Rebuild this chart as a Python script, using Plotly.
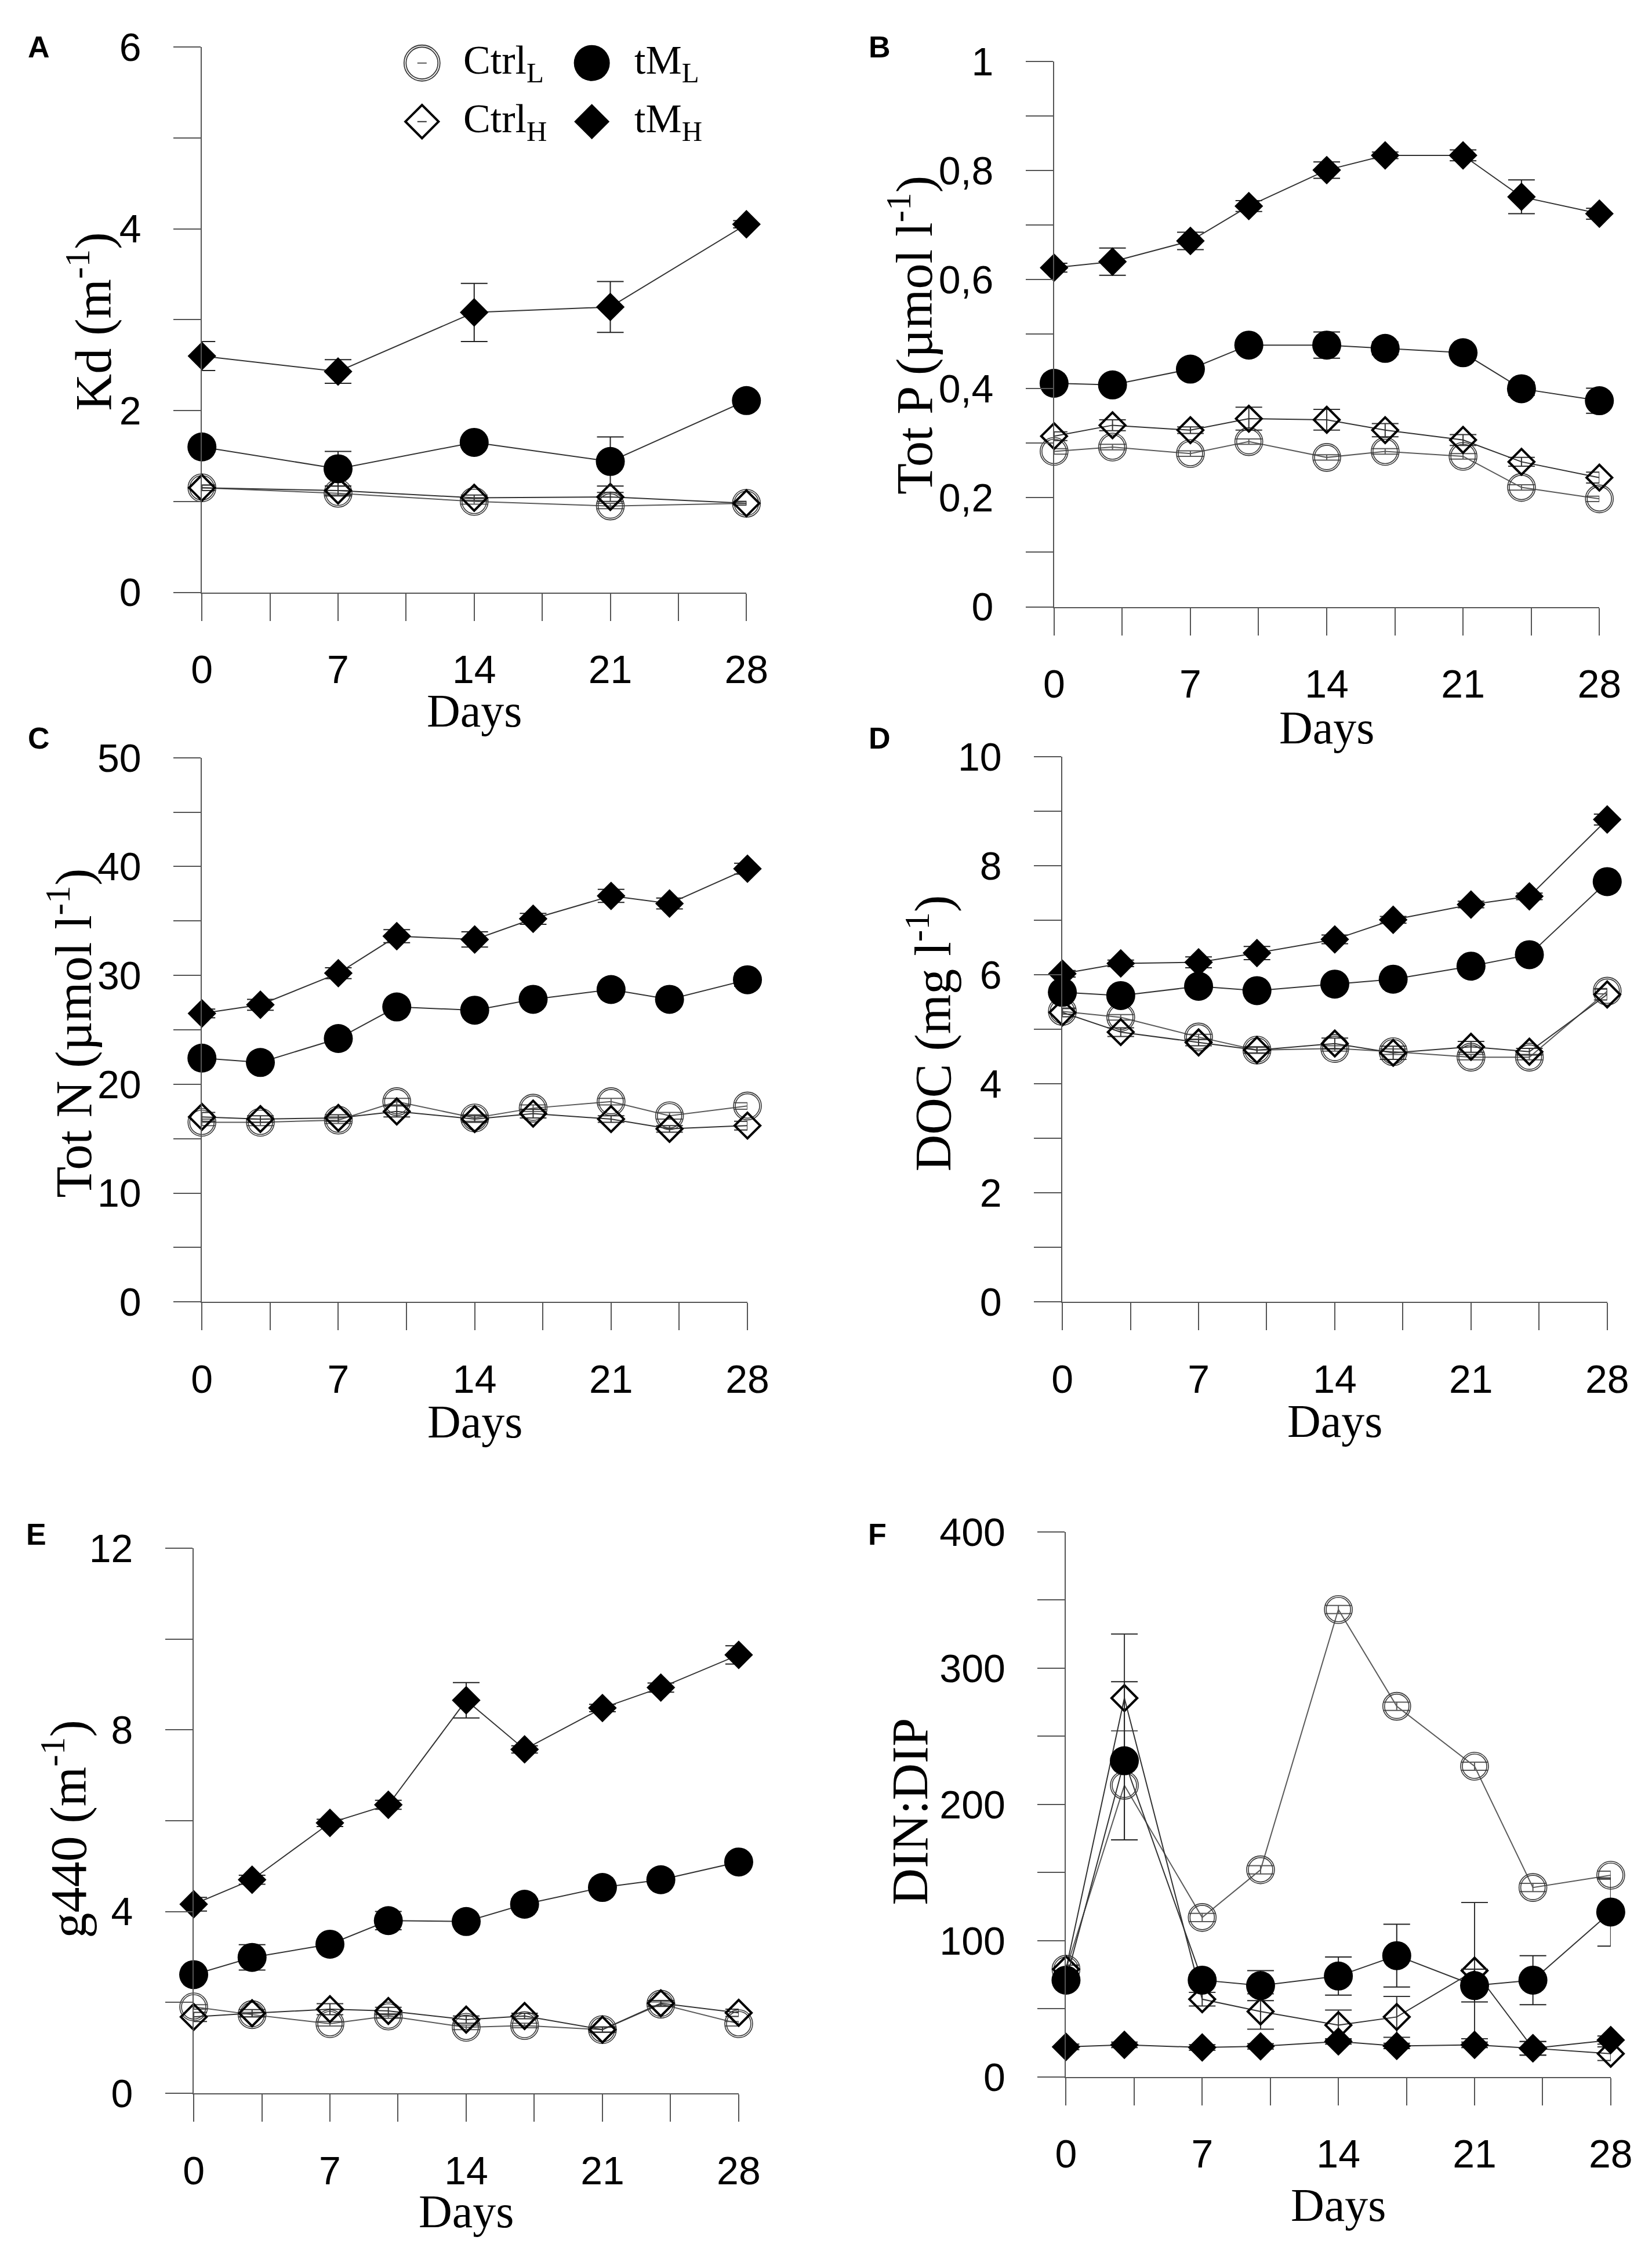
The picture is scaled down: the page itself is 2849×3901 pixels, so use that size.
import plotly.graph_objects as go

# ---------------- DATA ----------------
days5 = [0, 7, 14, 21, 28]
days9 = [0, 3, 7, 10, 14, 17, 21, 24, 28]

# A: Kd (m-1)
kd_ctrlL = [1.15, 1.09, 1.00, 0.95, 0.98]
kd_ctrlL_err = [0.03, 0.03, 0.03, 0.03, 0.02]
kd_ctrlH = [1.15, 1.12, 1.04, 1.05, 0.98]
kd_ctrlH_err = [0.03, 0.05, 0.03, 0.05, 0.02]
kd_tmL = [1.60, 1.36, 1.65, 1.44, 2.11]
kd_tmL_err = [0.05, 0.19, 0.05, 0.27, 0.05]
kd_tmH = [2.60, 2.43, 3.08, 3.14, 4.05]
kd_tmH_err = [0.16, 0.13, 0.32, 0.28, 0.04]

# B: Tot P (umol l-1)
tp_ctrlL = [0.285, 0.293, 0.281, 0.303, 0.274, 0.285, 0.276, 0.219, 0.198]
tp_ctrlL_err = [0.005, 0.005, 0.005, 0.005, 0.005, 0.005, 0.005, 0.005, 0.005]
tp_ctrlH = [0.313, 0.333, 0.324, 0.345, 0.343, 0.324, 0.306, 0.266, 0.237]
tp_ctrlH_err = [0.008, 0.010, 0.006, 0.021, 0.019, 0.012, 0.010, 0.008, 0.010]
tp_tmL = [0.410, 0.407, 0.436, 0.480, 0.480, 0.474, 0.466, 0.400, 0.378]
tp_tmL_err = [0.005, 0.005, 0.005, 0.008, 0.024, 0.012, 0.006, 0.012, 0.023]
tp_tmH = [0.622, 0.633, 0.671, 0.735, 0.801, 0.828, 0.828, 0.752, 0.721]
tp_tmH_err = [0.008, 0.025, 0.016, 0.010, 0.015, 0.006, 0.010, 0.031, 0.010]

# C: Tot N (umol l-1)
tn_ctrlL = [16.5, 16.5, 16.7, 18.4, 16.9, 17.8, 18.4, 17.1, 18.0]
tn_ctrlL_err = [0.3, 0.3, 0.3, 0.3, 0.3, 0.3, 0.3, 0.3, 0.3]
tn_ctrlH = [17.0, 16.8, 16.9, 17.5, 16.8, 17.3, 16.8, 15.9, 16.2]
tn_ctrlH_err = [0.4, 0.3, 0.3, 0.5, 0.3, 0.4, 0.3, 0.3, 0.4]
tn_tmL = [22.4, 22.0, 24.2, 27.1, 26.8, 27.8, 28.7, 27.8, 29.6]
tn_tmL_err = [0.3, 0.3, 0.3, 0.4, 0.3, 0.3, 0.4, 0.3, 0.6]
tn_tmH = [26.5, 27.3, 30.2, 33.6, 33.3, 35.2, 37.3, 36.6, 39.8]
tn_tmH_err = [0.4, 0.5, 0.5, 0.6, 0.7, 0.5, 0.6, 0.5, 0.5]

# D: DOC (mg l-1)
doc_ctrlL = [5.33, 5.22, 4.86, 4.62, 4.65, 4.59, 4.49, 4.49, 5.70]
doc_ctrlL_err = [0.05, 0.05, 0.05, 0.05, 0.05, 0.05, 0.05, 0.05, 0.05]
doc_ctrlH = [5.31, 4.95, 4.76, 4.62, 4.74, 4.57, 4.68, 4.59, 5.64]
doc_ctrlH_err = [0.08, 0.08, 0.06, 0.06, 0.10, 0.12, 0.10, 0.06, 0.10]
doc_tmL = [5.68, 5.62, 5.79, 5.71, 5.83, 5.92, 6.16, 6.37, 7.71]
doc_tmL_err = [0.05, 0.05, 0.05, 0.05, 0.05, 0.05, 0.05, 0.05, 0.08]
doc_tmH = [6.02, 6.21, 6.23, 6.40, 6.65, 7.01, 7.29, 7.44, 8.85]
doc_tmH_err = [0.06, 0.06, 0.10, 0.12, 0.08, 0.06, 0.06, 0.06, 0.10]

# E: g440 (m-1)
g_ctrlL = [1.90, 1.73, 1.53, 1.70, 1.45, 1.49, 1.40, 1.96, 1.53]
g_ctrlL_err = [0.05, 0.05, 0.05, 0.05, 0.05, 0.05, 0.05, 0.05, 0.05]
g_ctrlH = [1.68, 1.76, 1.85, 1.81, 1.62, 1.70, 1.40, 1.98, 1.77]
g_ctrlH_err = [0.10, 0.08, 0.12, 0.08, 0.08, 0.06, 0.06, 0.06, 0.08]
g_tmL = [2.61, 2.99, 3.28, 3.80, 3.78, 4.16, 4.53, 4.70, 5.09]
g_tmL_err = [0.08, 0.28, 0.10, 0.20, 0.08, 0.12, 0.08, 0.10, 0.08]
g_tmH = [4.16, 4.70, 5.95, 6.35, 8.65, 7.57, 8.48, 8.93, 9.65]
g_tmH_err = [0.15, 0.10, 0.08, 0.10, 0.39, 0.08, 0.08, 0.10, 0.20]

# F: DIN:DIP
dd_ctrlL = [79, 214, 117, 152, 343, 272, 228, 139, 148]
dd_ctrlL_err = [3, 40, 3, 3, 3, 3, 3, 3, 3]
dd_ctrlH = [79, 278, 57, 48, 38, 44, 78, 21, 17]
dd_ctrlH_err = [3, 47, 5, 13, 11, 15, 50, 5, 5]
dd_tmL = [71, 232, 71, 67, 74, 89, 67, 71, 121]
dd_tmL_err = [3, 58, 4, 11, 14, 23, 12, 18, 25]
dd_tmH = [22, 23.5, 21.6, 22.4, 26, 22.7, 23.5, 21, 27]
dd_tmH_err = [2, 2, 2, 2, 2, 2, 2, 5, 3]

series_names = ["Ctrl<sub>L</sub>", "tM<sub>L</sub>", "Ctrl<sub>H</sub>", "tM<sub>H</sub>"]

x_tickvals = [0, 3.5, 7, 10.5, 14, 17.5, 21, 24.5, 28]
x_ticktext = ["0", "", "7", "", "14", "", "21", "", "28"]

panel_letters = ["A", "B", "C", "D", "E", "F"]
y_titles = ["Kd (m<sup>-1</sup>)", "Tot P (µmol l<sup>-1</sup>)", "Tot N (µmol l<sup>-1</sup>)",
            "DOC (mg l<sup>-1</sup>)", "g440 (m<sup>-1</sup>)", "DIN:DIP"]
y_ranges = [[0, 6], [0, 1], [0, 50], [0, 10], [0, 12], [0, 400]]
y_tickvals = [
    [0, 1, 2, 3, 4, 5, 6],
    [0, 0.1, 0.2, 0.3, 0.4, 0.5, 0.6, 0.7, 0.8, 0.9, 1.0],
    [0, 5, 10, 15, 20, 25, 30, 35, 40, 45, 50],
    [0, 1, 2, 3, 4, 5, 6, 7, 8, 9, 10],
    [0, 2, 4, 6, 8, 10, 12],
    [0, 50, 100, 150, 200, 250, 300, 350, 400],
]
y_ticktext = [
    ["0", "", "2", "", "4", "", "6"],
    ["0", "", "0,2", "", "0,4", "", "0,6", "", "0,8", "", "1"],
    ["0", "", "10", "", "20", "", "30", "", "40", "", "50"],
    ["0", "", "2", "", "4", "", "6", "", "8", "", "10"],
    ["0", "", "4", "", "8", "", "12"],
    ["0", "", "100", "", "200", "", "300", "", "400"],
]

panel_days = [days5, days9, days9, days9, days9, days9]
panel_data = [
    [(kd_ctrlL, kd_ctrlL_err), (kd_ctrlH, kd_ctrlH_err), (kd_tmL, kd_tmL_err), (kd_tmH, kd_tmH_err)],
    [(tp_ctrlL, tp_ctrlL_err), (tp_ctrlH, tp_ctrlH_err), (tp_tmL, tp_tmL_err), (tp_tmH, tp_tmH_err)],
    [(tn_ctrlL, tn_ctrlL_err), (tn_ctrlH, tn_ctrlH_err), (tn_tmL, tn_tmL_err), (tn_tmH, tn_tmH_err)],
    [(doc_ctrlL, doc_ctrlL_err), (doc_ctrlH, doc_ctrlH_err), (doc_tmL, doc_tmL_err), (doc_tmH, doc_tmH_err)],
    [(g_ctrlL, g_ctrlL_err), (g_ctrlH, g_ctrlH_err), (g_tmL, g_tmL_err), (g_tmH, g_tmH_err)],
    [(dd_ctrlL, dd_ctrlL_err), (dd_ctrlH, dd_ctrlH_err), (dd_tmL, dd_tmL_err), (dd_tmH, dd_tmH_err)],
]

# ---------------- LAYOUT / STYLE ----------------
W, H = 2849, 3901
x_domains = [[0.11506, 0.45139], [0.64142, 0.97824], [0.11506, 0.45202],
             [0.64654, 0.98308], [0.10997, 0.44661], [0.64879, 0.98526]]
y_domains = [[0.74496, 0.99080], [0.73843, 0.98426], [0.42504, 0.67040],
             [0.42504, 0.67080], [0.06826, 0.31402], [0.07562, 0.32135]]
letter_pos = [(0.0144, 0.9908), (0.5335, 0.9908), (0.0144, 0.6791),
              (0.5335, 0.6791), (0.0126, 0.3202), (0.5321, 0.3202)]
ytitle_pos = [(0.0460, 0.8672), (0.5528, 0.8611), (0.0333, 0.5463),
              (0.5641, 0.5463), (0.0302, 0.1874), (0.5528, 0.1953)]
days_title_y = [0.6914, 0.6839, 0.3709, 0.3712, 0.0149, 0.0177]

AX = "#555555"
RING = "#3a3a3a"
ERR_W = 23
styles = [
    # drawing order: Ctrl_L, Ctrl_H, tM_L, tM_H
    dict(marker=dict(symbol="circle-open", size=48, color=RING, line=dict(width=1.6, color=RING)),
         line=dict(color="#5a5a5a", width=2), err="#5a5a5a"),
    dict(marker=dict(symbol="diamond-open", size=34, color="#000000", line=dict(width=4, color="#000000")),
         line=dict(color="#333333", width=2), err="#333333"),
    dict(marker=dict(symbol="circle", size=50, color="#000000", line=dict(width=0)),
         line=dict(color="#333333", width=2), err="#222222"),
    dict(marker=dict(symbol="diamond", size=38, color="#000000", line=dict(width=0)),
         line=dict(color="#333333", width=2), err="#222222"),
]
inner_ring = dict(symbol="circle-open", size=42, color=RING, line=dict(width=1.6, color=RING))

fig = go.Figure()
layout = dict(width=W, height=H, autosize=False, margin=dict(l=0, r=0, t=0, b=0),
              paper_bgcolor="white", plot_bgcolor="rgba(0,0,0,0)", showlegend=False)
annotations = []

tick_font = dict(family="Liberation Sans, Arial, sans-serif", size=68, color="#000000")
serif = "Liberation Serif, Times New Roman, serif"

for i in range(6):
    n = i + 1
    xa = "x" if n == 1 else f"x{n}"
    ya = "y" if n == 1 else f"y{n}"
    for k, ((vals, err), st) in enumerate(zip(panel_data[i], styles)):
        fig.add_trace(go.Scatter(
            x=panel_days[i], y=vals, mode="lines+markers",
            marker=st["marker"], line=st["line"],
            error_y=dict(type="data", array=err, visible=True, color=st["err"], thickness=2, width=ERR_W),
            xaxis=xa, yaxis=ya, cliponaxis=False, hoverinfo="skip"))
        if k == 0:  # second ring of the Ctrl_L double-circle symbol
            fig.add_trace(go.Scatter(x=panel_days[i], y=vals, mode="markers", marker=inner_ring,
                                     xaxis=xa, yaxis=ya, cliponaxis=False, hoverinfo="skip"))
    xkey = "xaxis" if n == 1 else f"xaxis{n}"
    ykey = "yaxis" if n == 1 else f"yaxis{n}"
    layout[xkey] = dict(domain=x_domains[i], anchor=ya, range=[0, 28],
                        tickmode="array", tickvals=x_tickvals, ticktext=x_ticktext,
                        ticks="outside", ticklen=47, tickwidth=2, tickcolor=AX,
                        showline=True, linecolor=AX, linewidth=2, showgrid=False, zeroline=False,
                        tickfont=tick_font, ticklabelstandoff=26)
    layout[ykey] = dict(domain=y_domains[i], anchor=xa, range=y_ranges[i],
                        tickmode="array", tickvals=y_tickvals[i], ticktext=y_ticktext[i],
                        ticks="outside", ticklen=47, tickwidth=2, tickcolor=AX,
                        showline=True, linecolor=AX, linewidth=2, showgrid=False, zeroline=False,
                        tickfont=tick_font, ticklabelstandoff=42)
    lx, ly = letter_pos[i]
    annotations.append(dict(text=f"<b>{panel_letters[i]}</b>", x=lx, y=ly, xref="paper", yref="paper",
                            xanchor="center", yanchor="middle", showarrow=False,
                            font=dict(family="Liberation Sans, Arial, sans-serif", size=52, color="#000")))
    tx, ty = ytitle_pos[i]
    annotations.append(dict(text=y_titles[i], x=tx, y=ty, xref="paper", yref="paper", textangle=-90,
                            xanchor="center", yanchor="middle", showarrow=False,
                            font=dict(family=serif, size=88, color="#000")))
    annotations.append(dict(text="Days", x=(x_domains[i][0] + x_domains[i][1]) / 2, y=days_title_y[i],
                            xref="paper", yref="paper", xanchor="center", yanchor="middle",
                            showarrow=False, font=dict(family=serif, size=80, color="#000")))

# ---- legend key (inside panel A), drawn on a hidden full-page axis ----
legend_x = [0.2510, 0.3559, 0.2510, 0.3559]
legend_y = [0.9836, 0.9836, 0.9572, 0.9572]
legend_text_x = [0.2759, 0.3815, 0.2759, 0.3815]
legend_marker = [
    dict(symbol="circle-open", size=62, color=RING, line=dict(width=1.8, color=RING)),
    dict(symbol="circle", size=62, color="#000000", line=dict(width=0)),
    dict(symbol="diamond-open", size=44, color="#000000", line=dict(width=4, color="#000000")),
    dict(symbol="diamond", size=47, color="#000000", line=dict(width=0)),
]
legend_err = ["#5a5a5a", None, "#333333", None]
for k in range(4):
    tr = dict(x=[legend_x[k]], y=[legend_y[k]], mode="markers", marker=legend_marker[k],
              xaxis="x7", yaxis="y7", cliponaxis=False, hoverinfo="skip")
    if legend_err[k]:
        tr["error_y"] = dict(type="data", array=[0], visible=True, color=legend_err[k], thickness=2, width=8)
    fig.add_trace(go.Scatter(**tr))
    if k == 0:
        fig.add_trace(go.Scatter(x=[legend_x[k]], y=[legend_y[k]], mode="markers",
                                 marker=dict(symbol="circle-open", size=55, color=RING,
                                             line=dict(width=1.8, color=RING)),
                                 xaxis="x7", yaxis="y7", cliponaxis=False, hoverinfo="skip"))
    annotations.append(dict(text=series_names[k], x=legend_text_x[k], y=legend_y[k], xref="paper", yref="paper",
                            xanchor="left", yanchor="middle", showarrow=False,
                            font=dict(family=serif, size=70, color="#000")))
layout["xaxis7"] = dict(domain=[0, 1], range=[0, 1], visible=False, anchor="y7", fixedrange=True)
layout["yaxis7"] = dict(domain=[0, 1], range=[0, 1], visible=False, anchor="x7", fixedrange=True)

layout["annotations"] = annotations
fig.update_layout(**layout)
fig.write_html("out.html")
